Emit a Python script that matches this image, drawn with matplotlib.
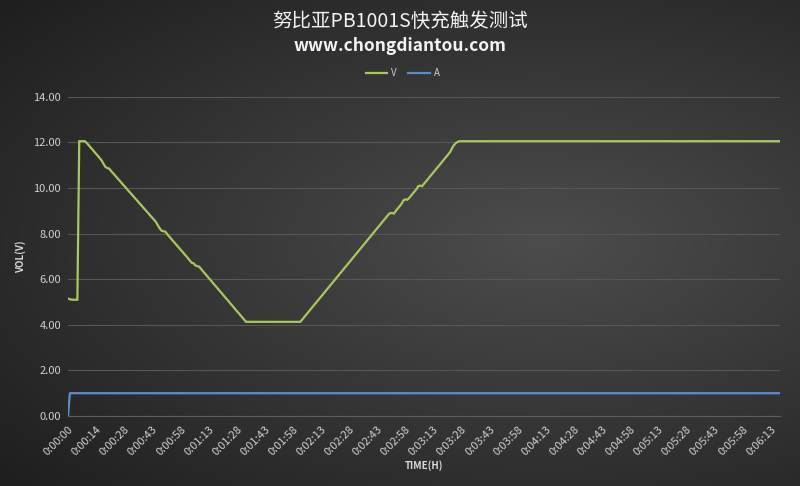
import numpy as np
import matplotlib.pyplot as plt

title = "努比亚PB1001S快充触发测试"
subtitle = "www.chongdiantou.com"

tick_labels = ["0:00:00", "0:00:14", "0:00:28", "0:00:43", "0:00:58", "0:01:13", "0:01:28",
               "0:01:43", "0:01:58", "0:02:13", "0:02:28", "0:02:43", "0:02:58", "0:03:13",
               "0:03:28", "0:03:43", "0:03:58", "0:04:13", "0:04:28", "0:04:43", "0:04:58",
               "0:05:13", "0:05:28", "0:05:43", "0:05:58", "0:06:13"]

# voltage, one reading per sample
volts = [
    5.15, 5.12, 5.10, 5.10, 5.10, 5.10,
    12.05, 12.05, 12.05, 12.05,
    11.97, 11.88, 11.78, 11.69, 11.59, 11.49, 11.40, 11.30, 11.20, 11.05,
    10.92, 10.87, 10.85, 10.74, 10.65, 10.56, 10.46, 10.37, 10.28, 10.18,
    10.09, 10.00, 9.90, 9.81, 9.72, 9.62, 9.53, 9.44, 9.34, 9.25,
    9.16, 9.06, 8.97, 8.88, 8.78, 8.69, 8.60, 8.50, 8.35, 8.22,
    8.12, 8.10, 8.08, 7.97, 7.87, 7.78, 7.68, 7.59, 7.49, 7.40,
    7.30, 7.21, 7.11, 7.02, 6.92, 6.82, 6.72, 6.70, 6.60, 6.57,
    6.55, 6.45, 6.35, 6.26, 6.16, 6.06, 5.97, 5.87, 5.77, 5.68,
    5.58, 5.48, 5.39, 5.29, 5.19, 5.10, 5.00, 4.90, 4.81, 4.71,
    4.61, 4.52, 4.42, 4.32, 4.23, 4.13,
    4.13, 4.13, 4.13, 4.13, 4.13, 4.13, 4.13, 4.13, 4.13, 4.13,
    4.13, 4.13, 4.13, 4.13, 4.13, 4.13, 4.13, 4.13, 4.13, 4.13,
    4.13, 4.13, 4.13, 4.13, 4.13, 4.13, 4.13, 4.13, 4.13,
    4.23, 4.33, 4.43, 4.53, 4.63, 4.73, 4.83, 4.93, 5.03, 5.13,
    5.23, 5.33, 5.43, 5.53, 5.63, 5.73, 5.83, 5.93, 6.03, 6.13,
    6.23, 6.33, 6.43, 6.53, 6.63, 6.73, 6.83, 6.93, 7.03, 7.13,
    7.23, 7.33, 7.43, 7.53, 7.63, 7.73, 7.83, 7.93, 8.03, 8.13,
    8.23, 8.33, 8.43, 8.53, 8.63, 8.73, 8.83,
    8.90, 8.90, 8.88, 9.00, 9.10, 9.20, 9.30, 9.45, 9.50, 9.48,
    9.55, 9.65, 9.75, 9.85, 9.95, 10.08, 10.10, 10.08, 10.18,
    10.28, 10.38, 10.48, 10.58, 10.68, 10.78, 10.88, 10.98, 11.08, 11.18,
    11.28, 11.38, 11.48, 11.58, 11.75, 11.88, 11.97, 12.02,
    12.05, 12.05, 12.05, 12.05, 12.05, 12.05, 12.05, 12.05, 12.05, 12.05,
    12.05, 12.05, 12.05, 12.05, 12.05, 12.05, 12.05, 12.05, 12.05, 12.05,
    12.05, 12.05, 12.05, 12.05, 12.05, 12.05, 12.05, 12.05, 12.05, 12.05,
    12.05, 12.05, 12.05, 12.05, 12.05, 12.05, 12.05, 12.05, 12.05, 12.05,
    12.05, 12.05, 12.05, 12.05, 12.05, 12.05, 12.05, 12.05, 12.05, 12.05,
    12.05, 12.05, 12.05, 12.05, 12.05, 12.05, 12.05, 12.05, 12.05, 12.05,
    12.05, 12.05, 12.05, 12.05, 12.05, 12.05, 12.05, 12.05, 12.05, 12.05,
    12.05, 12.05, 12.05, 12.05, 12.05, 12.05, 12.05, 12.05, 12.05, 12.05,
    12.05, 12.05, 12.05, 12.05, 12.05, 12.05, 12.05, 12.05, 12.05, 12.05,
    12.05, 12.05, 12.05, 12.05, 12.05, 12.05, 12.05, 12.05, 12.05, 12.05,
    12.05, 12.05, 12.05, 12.05, 12.05, 12.05, 12.05, 12.05, 12.05, 12.05,
    12.05, 12.05, 12.05, 12.05, 12.05, 12.05, 12.05, 12.05, 12.05, 12.05,
    12.05, 12.05, 12.05, 12.05, 12.05, 12.05, 12.05, 12.05, 12.05, 12.05,
    12.05, 12.05, 12.05, 12.05, 12.05, 12.05, 12.05, 12.05, 12.05, 12.05,
    12.05, 12.05, 12.05, 12.05, 12.05, 12.05, 12.05, 12.05, 12.05, 12.05,
    12.05, 12.05, 12.05, 12.05, 12.05, 12.05, 12.05, 12.05, 12.05, 12.05,
    12.05, 12.05, 12.05, 12.05, 12.05, 12.05, 12.05, 12.05, 12.05, 12.05,
    12.05, 12.05,
]

# current, one reading per sample
amps = [
    0.00,
    1.00, 1.00, 1.00, 1.00, 1.00, 1.00, 1.00, 1.00, 1.00, 1.00, 1.00, 1.00, 1.00, 1.00, 1.00, 1.00, 1.00, 1.00, 1.00, 1.00,
    1.00, 1.00, 1.00, 1.00, 1.00, 1.00, 1.00, 1.00, 1.00, 1.00, 1.00, 1.00, 1.00, 1.00, 1.00, 1.00, 1.00, 1.00, 1.00, 1.00,
    1.00, 1.00, 1.00, 1.00, 1.00, 1.00, 1.00, 1.00, 1.00, 1.00, 1.00, 1.00, 1.00, 1.00, 1.00, 1.00, 1.00, 1.00, 1.00, 1.00,
    1.00, 1.00, 1.00, 1.00, 1.00, 1.00, 1.00, 1.00, 1.00, 1.00, 1.00, 1.00, 1.00, 1.00, 1.00, 1.00, 1.00, 1.00, 1.00, 1.00,
    1.00, 1.00, 1.00, 1.00, 1.00, 1.00, 1.00, 1.00, 1.00, 1.00, 1.00, 1.00, 1.00, 1.00, 1.00, 1.00, 1.00, 1.00, 1.00, 1.00,
    1.00, 1.00, 1.00, 1.00, 1.00, 1.00, 1.00, 1.00, 1.00, 1.00, 1.00, 1.00, 1.00, 1.00, 1.00, 1.00, 1.00, 1.00, 1.00, 1.00,
    1.00, 1.00, 1.00, 1.00, 1.00, 1.00, 1.00, 1.00, 1.00, 1.00, 1.00, 1.00, 1.00, 1.00, 1.00, 1.00, 1.00, 1.00, 1.00, 1.00,
    1.00, 1.00, 1.00, 1.00, 1.00, 1.00, 1.00, 1.00, 1.00, 1.00, 1.00, 1.00, 1.00, 1.00, 1.00, 1.00, 1.00, 1.00, 1.00, 1.00,
    1.00, 1.00, 1.00, 1.00, 1.00, 1.00, 1.00, 1.00, 1.00, 1.00, 1.00, 1.00, 1.00, 1.00, 1.00, 1.00, 1.00, 1.00, 1.00, 1.00,
    1.00, 1.00, 1.00, 1.00, 1.00, 1.00, 1.00, 1.00, 1.00, 1.00, 1.00, 1.00, 1.00, 1.00, 1.00, 1.00, 1.00, 1.00, 1.00, 1.00,
    1.00, 1.00, 1.00, 1.00, 1.00, 1.00, 1.00, 1.00, 1.00, 1.00, 1.00, 1.00, 1.00, 1.00, 1.00, 1.00, 1.00, 1.00, 1.00, 1.00,
    1.00, 1.00, 1.00, 1.00, 1.00, 1.00, 1.00, 1.00, 1.00, 1.00, 1.00, 1.00, 1.00, 1.00, 1.00, 1.00, 1.00, 1.00, 1.00, 1.00,
    1.00, 1.00, 1.00, 1.00, 1.00, 1.00, 1.00, 1.00, 1.00, 1.00, 1.00, 1.00, 1.00, 1.00, 1.00, 1.00, 1.00, 1.00, 1.00, 1.00,
    1.00, 1.00, 1.00, 1.00, 1.00, 1.00, 1.00, 1.00, 1.00, 1.00, 1.00, 1.00, 1.00, 1.00, 1.00, 1.00, 1.00, 1.00, 1.00, 1.00,
    1.00, 1.00, 1.00, 1.00, 1.00, 1.00, 1.00, 1.00, 1.00, 1.00, 1.00, 1.00, 1.00, 1.00, 1.00, 1.00, 1.00, 1.00, 1.00, 1.00,
    1.00, 1.00, 1.00, 1.00, 1.00, 1.00, 1.00, 1.00, 1.00, 1.00, 1.00, 1.00, 1.00, 1.00, 1.00, 1.00, 1.00, 1.00, 1.00, 1.00,
    1.00, 1.00, 1.00, 1.00, 1.00, 1.00, 1.00, 1.00, 1.00, 1.00, 1.00, 1.00, 1.00, 1.00, 1.00, 1.00, 1.00, 1.00, 1.00, 1.00,
    1.00, 1.00, 1.00, 1.00, 1.00, 1.00, 1.00, 1.00, 1.00, 1.00, 1.00, 1.00, 1.00, 1.00, 1.00, 1.00, 1.00, 1.00, 1.00, 1.00,
    1.00, 1.00, 1.00, 1.00, 1.00, 1.00, 1.00, 1.00, 1.00, 1.00, 1.00, 1.00, 1.00, 1.00, 1.00, 1.00, 1.00, 1.00, 1.00, 1.00,
]

plt.rcParams['font.family'] = ['Noto Sans CJK SC', 'DejaVu Sans']

fig = plt.figure(figsize=(8, 4.86), dpi=100)

# dark radial background like the excel chart style
bg = fig.add_axes([0, 0, 1, 1], zorder=-10)
gx, gy = np.meshgrid(np.linspace(0, 1, 400), np.linspace(0, 1, 243))
d = np.sqrt(((gx - 0.68) / 0.9) ** 2 + ((gy - 0.5) / 0.75) ** 2)
d = np.clip(d, 0, 1)
lo, hi = np.array([0.12, 0.12, 0.12]), np.array([0.30, 0.30, 0.30])
img = hi[None, None, :] * (1 - d[..., None]) + lo[None, None, :] * d[..., None]
bg.imshow(img, aspect='auto', extent=[0, 1, 0, 1], origin='lower')
bg.axis('off')

ax = fig.add_axes([0.085, 0.144, 0.89, 0.657])
ax.set_facecolor('none')

x = np.arange(len(volts))
xa = np.arange(len(amps))
ax.plot(x, volts, color='#a6c95b', lw=1.6, label='V', solid_joinstyle='miter')
ax.plot(xa, amps, color='#5b8fcb', lw=1.6, label='A')

ax.set_xlim(0, len(volts) - 1)
ax.set_ylim(0, 14)
ax.set_yticks(np.arange(0, 15, 2))
ax.set_yticklabels([f"{v:.2f}" for v in np.arange(0, 15, 2)])
ax.set_xticks(np.arange(0, 15 * len(tick_labels), 15))
ax.set_xticklabels(tick_labels, rotation=45, ha='right', rotation_mode='anchor')

ax.grid(axis='y', color='#575757', lw=0.8)
ax.set_axisbelow(True)
for s in ['top', 'right', 'left']:
    ax.spines[s].set_visible(False)
ax.spines['bottom'].set_color('#5e5e5e')
ax.tick_params(colors='#d0d0d0', labelsize=8, length=0, pad=5)
ax.tick_params(axis='x', pad=6)

ax.set_ylabel('VOL(V)', color='#d9d9d9', fontsize=7, fontweight='bold', labelpad=5)
ax.set_xlabel('TIME(H)', color='#d9d9d9', fontsize=7, fontweight='bold', labelpad=2)

fig.text(0.5, 0.955, title, ha='center', va='center', color='#f2f2f2',
         fontsize=14, fontweight='medium')
fig.text(0.5, 0.905, subtitle, ha='center', va='center', color='#f2f2f2',
         fontsize=12.5, fontweight='bold')

leg = ax.legend(loc='lower center', bbox_to_anchor=(0.47, 1.03), ncol=2, frameon=False,
                fontsize=7, handlelength=2.2, columnspacing=1.2, handletextpad=0.4)
for t in leg.get_texts():
    t.set_color('#d0d0d0')

fig.savefig('out.png', dpi=100)
